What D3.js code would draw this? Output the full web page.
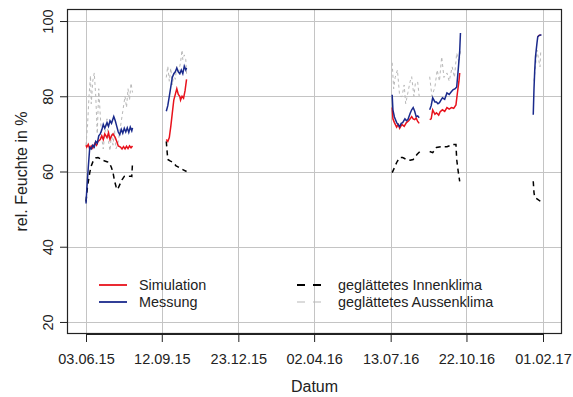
<!DOCTYPE html>
<html><head><meta charset="utf-8">
<script src="https://cdn.jsdelivr.net/npm/d3@7"></script>
<style>body{margin:0;background:#fff}svg{display:block;font-family:"Liberation Sans",Arial,sans-serif}</style>
</head><body><svg id="c" width="573" height="397"></svg>
<script>
// ---- data ----
const xTicks = ["2015-06-03","2015-09-12","2015-12-23","2016-04-02","2016-07-13","2016-10-22","2017-02-01"];
const yTicks = [20,40,60,80,100];
const legendLabels = ["Simulation","Messung","geglättetes Innenklima","geglättetes Aussenklima"];

const simulation = [
["2015-06-03",67.0],["2015-06-04",66.5],["2015-06-06",67.2],["2015-06-08",66.0],["2015-06-10",66.8],["2015-06-12",66.2],
["2015-06-15",67.5],["2015-06-17",67.0],["2015-06-19",68.0],["2015-06-22",68.5],["2015-06-24",69.5],["2015-06-26",68.5],
["2015-06-28",70.0],["2015-07-01",69.0],["2015-07-03",70.3],["2015-07-05",68.5],["2015-07-07",69.5],["2015-07-09",70.0],
["2015-07-12",69.0],["2015-07-14",68.0],["2015-07-16",66.8],["2015-07-19",66.5],["2015-07-21",66.0],["2015-07-23",66.6],
["2015-07-25",66.0],["2015-07-27",66.7],["2015-07-29",66.1],["2015-07-31",66.8],["2015-08-02",66.3],["2015-08-04",66.8],
null,
["2015-09-18",68.5],["2015-09-20",68.0],["2015-09-22",69.0],["2015-09-24",72.0],["2015-09-26",75.5],["2015-09-28",79.0],
["2015-09-30",80.5],["2015-10-02",82.0],["2015-10-04",80.5],["2015-10-06",80.0],["2015-10-07",79.0],["2015-10-09",80.0],
["2015-10-11",79.5],["2015-10-13",81.5],["2015-10-15",84.5],
null,
["2016-07-15",77.0],["2016-07-16",74.0],["2016-07-18",73.0],["2016-07-21",71.8],["2016-07-23",72.5],["2016-07-25",71.5],
["2016-07-28",72.5],["2016-07-31",72.0],["2016-08-03",73.0],["2016-08-06",73.5],["2016-08-08",74.0],["2016-08-10",74.6],
["2016-08-12",74.0],["2016-08-14",73.8],["2016-08-16",74.2],["2016-08-18",73.3],["2016-08-20",72.8],
null,
["2016-09-03",73.8],["2016-09-05",74.0],["2016-09-07",76.4],["2016-09-10",75.2],["2016-09-12",75.6],["2016-09-15",75.0],
["2016-09-17",75.9],["2016-09-20",76.4],["2016-09-23",76.0],["2016-09-26",77.0],["2016-09-29",76.6],["2016-10-02",77.0],
["2016-10-05",76.8],["2016-10-08",77.7],["2016-10-10",81.0],["2016-10-12",84.0],["2016-10-13",86.2],
null,
["2017-01-25",95.8],["2017-01-27",96.2],["2017-01-29",96.3]
];

const messung = [
["2015-06-03",51.5],["2015-06-04",55.0],["2015-06-05",58.0],["2015-06-06",61.0],["2015-06-08",66.4],["2015-06-10",66.0],
["2015-06-12",67.0],["2015-06-14",66.5],["2015-06-16",68.0],["2015-06-18",67.5],["2015-06-20",69.5],["2015-06-22",70.0],
["2015-06-24",71.0],["2015-06-26",72.5],["2015-06-28",71.5],["2015-07-01",73.0],["2015-07-03",72.0],["2015-07-05",73.5],
["2015-07-07",72.8],["2015-07-10",74.6],["2015-07-12",73.5],["2015-07-14",72.0],["2015-07-16",70.5],["2015-07-18",69.8],
["2015-07-20",71.2],["2015-07-22",70.2],["2015-07-24",71.5],["2015-07-26",70.5],["2015-07-28",71.6],["2015-07-30",70.4],
["2015-08-01",71.8],["2015-08-03",70.8],["2015-08-04",71.6],
null,
["2015-09-18",76.0],["2015-09-20",77.5],["2015-09-22",80.0],["2015-09-24",82.5],["2015-09-26",85.0],["2015-09-28",86.0],
["2015-09-30",86.5],["2015-10-02",87.5],["2015-10-04",86.5],["2015-10-06",86.0],["2015-10-08",87.0],["2015-10-10",86.0],
["2015-10-12",88.0],["2015-10-14",87.0],["2015-10-15",87.5],
null,
["2016-07-15",80.4],["2016-07-16",76.4],["2016-07-18",74.5],["2016-07-21",73.0],["2016-07-23",72.5],["2016-07-25",71.9],
["2016-07-27",72.8],["2016-07-29",73.0],["2016-08-01",74.0],["2016-08-03",73.5],["2016-08-05",73.8],["2016-08-08",75.5],
["2016-08-10",76.4],["2016-08-12",77.0],["2016-08-14",76.0],["2016-08-16",74.6],["2016-08-18",74.8],["2016-08-20",74.3],
null,
["2016-09-03",76.4],["2016-09-05",77.5],["2016-09-07",79.6],["2016-09-10",78.5],["2016-09-12",78.5],["2016-09-14",78.0],
["2016-09-16",78.3],["2016-09-18",79.0],["2016-09-20",79.6],["2016-09-23",79.2],["2016-09-26",80.9],["2016-09-29",80.5],
["2016-10-01",81.0],["2016-10-04",81.7],["2016-10-07",82.0],["2016-10-09",82.5],["2016-10-11",87.0],["2016-10-13",92.0],
["2016-10-14",96.8],
null,
["2017-01-19",75.1],["2017-01-20",82.0],["2017-01-21",87.0],["2017-01-22",90.5],["2017-01-24",94.2],["2017-01-25",95.8],
["2017-01-27",96.2],["2017-01-29",96.3],["2017-01-30",96.3]
];

const innenklima = [
["2015-06-03",52.0],["2015-06-05",56.0],["2015-06-08",59.7],["2015-06-10",61.5],["2015-06-13",63.0],["2015-06-16",63.6],
["2015-06-19",63.7],["2015-06-22",63.4],["2015-06-25",63.0],["2015-06-28",62.8],["2015-07-01",62.6],["2015-07-04",62.4],
["2015-07-07",61.0],["2015-07-09",59.7],["2015-07-11",57.5],["2015-07-13",56.0],["2015-07-15",55.2],["2015-07-18",56.5],
["2015-07-21",57.8],["2015-07-24",58.7],["2015-07-27",58.8],["2015-07-30",58.7],["2015-08-02",58.8],["2015-08-03",58.7],
["2015-08-04",62.4],
null,
["2015-09-18",68.0],["2015-09-19",65.5],["2015-09-20",63.2],["2015-09-23",62.8],["2015-09-27",62.4],["2015-10-01",61.5],
["2015-10-03",61.3],["2015-10-07",60.8],["2015-10-10",60.5],["2015-10-15",60.0],
null,
["2016-07-15",59.7],["2016-07-18",61.0],["2016-07-21",62.4],["2016-07-25",63.7],["2016-07-29",63.7],["2016-08-03",63.2],
["2016-08-08",63.0],["2016-08-12",63.2],["2016-08-17",64.5],["2016-08-21",65.3],
null,
["2016-09-03",65.3],["2016-09-07",65.0],["2016-09-12",66.4],["2016-09-19",66.6],["2016-09-26",66.6],["2016-10-04",67.2],
["2016-10-08",67.2],["2016-10-09",63.2],["2016-10-11",60.0],["2016-10-13",57.4],
null,
["2017-01-19",57.4],["2017-01-20",54.4],["2017-01-21",53.1],["2017-01-25",52.6],["2017-01-29",52.0]
];

const aussenklima = [
["2015-06-03",67.0],["2015-06-05",72.0],["2015-06-07",80.0],["2015-06-09",85.5],["2015-06-10",78.0],["2015-06-12",84.0],
["2015-06-14",86.2],["2015-06-16",80.0],["2015-06-18",70.0],["2015-06-20",82.0],["2015-06-22",75.0],["2015-06-24",69.0],
["2015-06-26",66.0],["2015-06-28",70.0],["2015-07-01",74.0],["2015-07-03",68.0],["2015-07-05",65.5],["2015-07-07",70.0],
["2015-07-09",67.0],["2015-07-11",71.0],["2015-07-13",66.0],["2015-07-16",68.0],["2015-07-19",72.0],["2015-07-22",76.0],
["2015-07-25",80.0],["2015-07-27",77.0],["2015-07-29",82.0],["2015-07-31",79.0],["2015-08-02",83.5],["2015-08-04",81.0],
null,
["2015-09-18",85.0],["2015-09-20",88.0],["2015-09-22",84.0],["2015-09-24",87.5],["2015-09-26",83.0],["2015-09-28",86.0],
["2015-09-30",84.5],["2015-10-02",88.0],["2015-10-04",86.0],["2015-10-07",89.0],["2015-10-09",92.3],["2015-10-10",89.7],
["2015-10-12",91.0],["2015-10-14",89.7],["2015-10-15",86.0],
null,
["2016-07-15",88.9],["2016-07-17",82.0],["2016-07-19",85.0],["2016-07-22",87.0],["2016-07-25",80.0],["2016-07-28",79.9],
["2016-07-31",83.0],["2016-08-02",78.0],["2016-08-05",81.0],["2016-08-08",84.0],["2016-08-10",85.2],["2016-08-13",80.0],
["2016-08-15",83.6],["2016-08-18",83.8],["2016-08-20",80.0],
null,
["2016-09-03",85.2],["2016-09-06",80.0],["2016-09-10",82.5],["2016-09-13",87.0],["2016-09-16",84.0],["2016-09-19",90.5],
["2016-09-22",85.0],["2016-09-26",86.2],["2016-09-29",84.0],["2016-10-03",87.8],["2016-10-06",85.0],["2016-10-09",91.5],
["2016-10-12",88.9],["2016-10-14",92.0],
null,
["2017-01-20",84.0],["2017-01-22",88.0],["2017-01-24",92.3],["2017-01-26",90.0],["2017-01-28",87.8],["2017-01-29",92.0]
];

// ---- drawing ----
const parse = d3.utcParse("%Y-%m-%d");
const fmt = d3.utcFormat("%d.%m.%y");
const svg = d3.select("#c");
const box = {l:67, r:562, t:9, b:334};

const x = d3.scaleUtc().domain([parse(xTicks[0]), parse(xTicks[xTicks.length-1])]).range([86, 543]);
const y = d3.scaleLinear().domain([16.8, 103.2]).range([box.b, box.t]);

svg.append("defs").append("clipPath").attr("id","clip")
  .append("rect").attr("x",box.l).attr("y",box.t).attr("width",box.r-box.l).attr("height",box.b-box.t);

// grid
const grid = svg.append("g").attr("stroke","#c4c4c4").attr("stroke-width",1);
xTicks.forEach(t => grid.append("line").attr("x1",Math.round(x(parse(t)))+0.5).attr("x2",Math.round(x(parse(t)))+0.5)
  .attr("y1",box.t).attr("y2",box.b));
yTicks.forEach(t => grid.append("line").attr("y1",Math.round(y(t))+0.5).attr("y2",Math.round(y(t))+0.5)
  .attr("x1",box.l).attr("x2",box.r));

const line = d3.line().defined(d => d !== null).x(d => x(parse(d[0]))).y(d => y(d[1]));
const plot = svg.append("g").attr("clip-path","url(#clip)").attr("fill","none");
plot.append("path").datum(aussenklima).attr("d",line).attr("stroke","#b8b8b8").attr("stroke-width",1).attr("stroke-dasharray","3,3");
plot.append("path").datum(innenklima).attr("d",line).attr("stroke","#000").attr("stroke-width",1.5).attr("stroke-dasharray","5,4");
plot.append("path").datum(simulation).attr("d",line).attr("stroke","#e8121c").attr("stroke-width",1.5);
plot.append("path").datum(messung).attr("d",line).attr("stroke","#1a2a8c").attr("stroke-width",1.5);

// box
svg.append("rect").attr("x",box.l+0.5).attr("y",box.t+0.5).attr("width",box.r-box.l-1).attr("height",box.b-box.t-1)
  .attr("fill","none").attr("stroke","#222").attr("stroke-width",1.2);

// x axis
const xa = svg.append("g").attr("transform",`translate(0,${box.b})`)
  .call(d3.axisBottom(x).tickValues(xTicks.map(parse)).tickFormat(fmt).tickSize(8).tickPadding(12));
xa.select(".domain").attr("d",`M${x(parse(xTicks[0]))},0.5H${x(parse(xTicks[xTicks.length-1]))}`).attr("stroke","#222");
xa.selectAll(".tick line").attr("stroke","#222");
xa.selectAll("text").attr("font-size","14.5px").attr("fill","#222").attr("font-family","Liberation Sans, Arial, sans-serif");

// y axis
const ya = svg.append("g").attr("transform",`translate(${box.l},0)`)
  .call(d3.axisLeft(y).tickValues(yTicks).tickSize(7).tickFormat(d3.format("d")));
ya.select(".domain").attr("d",`M0.5,${y(20)}V${y(100)}`).attr("stroke","#222");
ya.selectAll(".tick line").attr("stroke","#222");
ya.selectAll(".tick text").attr("font-size","14.5px").attr("fill","#222").attr("font-family","Liberation Sans, Arial, sans-serif")
  .attr("x",null).attr("dy",null).attr("text-anchor","middle").attr("transform","translate(-14,0) rotate(-90)");

// titles
svg.append("text").attr("x",(box.l+box.r)/2).attr("y",392).attr("text-anchor","middle")
  .attr("font-size","16px").attr("fill","#222").text("Datum");
svg.append("text").attr("transform",`translate(27,${(box.t+box.b)/2}) rotate(-90)`).attr("text-anchor","middle")
  .attr("font-size","16px").attr("fill","#222").text("rel. Feuchte in %");

// legend
const leg = svg.append("g").attr("font-size","14.4px").attr("fill","#222");
const items = [
  {x1:99,x2:127,tx:139,y:285,col:"#e8121c",w:1.8,dash:null},
  {x1:99,x2:127,tx:139,y:302,col:"#1a2a8c",w:1.8,dash:null},
  {x1:297,x2:323,tx:338,y:285,col:"#000",w:1.8,dash:"8,8"},
  {x1:297,x2:323,tx:338,y:302,col:"#b8b8b8",w:1.2,dash:"8,8"}
];
items.forEach((it,i) => {
  leg.append("line").attr("x1",it.x1).attr("x2",it.x2).attr("y1",it.y).attr("y2",it.y)
    .attr("stroke",it.col).attr("stroke-width",it.w).attr("stroke-dasharray",it.dash);
  leg.append("text").attr("x",it.tx).attr("y",it.y+5).text(legendLabels[i]);
});
</script></body></html>
